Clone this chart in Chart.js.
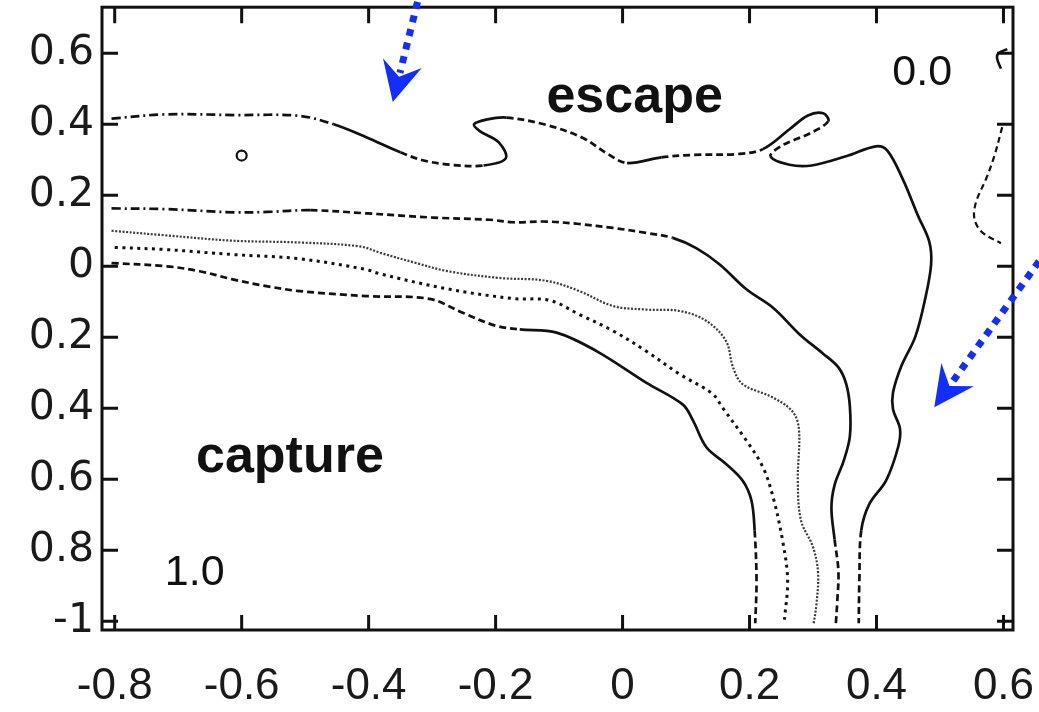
<!DOCTYPE html>
<html>
<head>
<meta charset="utf-8">
<script src="https://cdn.jsdelivr.net/npm/chart.js@4.4.1/dist/chart.umd.min.js"></script>
<style>
  html, body { margin: 0; padding: 0; background: #fff; overflow: hidden; }
  #wrap { width: 1039px; height: 712px; position: relative; }
</style>
</head>
<body>
<div id="wrap"><canvas id="c" width="1039" height="712"></canvas></div>
<script>
// Axis ticks
const xTicks = [-0.8, -0.6, -0.4, -0.2, 0, 0.2, 0.4, 0.6];
const xTickLabels = ['-0.8', '-0.6', '-0.4', '-0.2', '0', '0.2', '0.4', '0.6'];
const yTicks = [-1, -0.8, -0.6, -0.4, -0.2, 0, 0.2, 0.4, 0.6];
const yTickLabels = ['-1', '0.8', '0.6', '0.4', '0.2', '0', '0.2', '0.4', '0.6'];

// Contour lines, [x, y]
const contourOuter = [
  [-0.805, 0.416], [-0.72, 0.428], [-0.61, 0.426], [-0.51, 0.424], [-0.455, 0.400],
  [-0.403, 0.363], [-0.35, 0.321], [-0.313, 0.298], [-0.271, 0.286], [-0.219, 0.284],
  [-0.184, 0.304], [-0.195, 0.349], [-0.225, 0.381], [-0.234, 0.400], [-0.213, 0.414],
  [-0.183, 0.419], [-0.124, 0.400], [-0.064, 0.363], [-0.023, 0.316], [0.007, 0.291],
  [0.061, 0.307], [0.114, 0.314], [0.180, 0.316], [0.221, 0.330], [0.263, 0.386],
  [0.292, 0.425], [0.316, 0.431], [0.324, 0.409], [0.298, 0.377], [0.251, 0.340],
  [0.233, 0.310], [0.263, 0.286], [0.298, 0.284], [0.352, 0.310], [0.399, 0.338],
  [0.417, 0.326], [0.441, 0.247], [0.465, 0.144], [0.483, 0.070], [0.486, 0.005],
  [0.476, -0.097], [0.461, -0.199], [0.439, -0.282], [0.426, -0.356], [0.426, -0.403],
  [0.437, -0.458], [0.434, -0.510], [0.415, -0.604], [0.389, -0.669], [0.376, -0.744],
  [0.373, -0.884], [0.372, -1.006]
];
const contourSecond = [
  [-0.805, 0.163], [-0.718, 0.161], [-0.613, 0.152], [-0.56, 0.153], [-0.492, 0.158],
  [-0.403, 0.149], [-0.297, 0.137], [-0.209, 0.131], [-0.173, 0.124], [-0.12, 0.126],
  [-0.068, 0.119], [-0.015, 0.108], [0.037, 0.094], [0.079, 0.080], [0.116, 0.051],
  [0.153, 0.005], [0.195, -0.065], [0.237, -0.117], [0.279, -0.192], [0.315, -0.245],
  [0.340, -0.285], [0.352, -0.330], [0.358, -0.394], [0.358, -0.480], [0.348, -0.550],
  [0.334, -0.616], [0.329, -0.681], [0.334, -0.770], [0.340, -0.860], [0.338, -0.950],
  [0.336, -1.006]
];
const contourThird = [
  [-0.805, 0.100], [-0.719, 0.087], [-0.614, 0.072], [-0.509, 0.067], [-0.414, 0.056],
  [-0.380, 0.037], [-0.325, 0.009], [-0.275, -0.014], [-0.194, -0.033], [-0.120, -0.041],
  [-0.068, -0.070], [-0.015, -0.112], [0.037, -0.122], [0.090, -0.126], [0.132, -0.154],
  [0.163, -0.211], [0.174, -0.285], [0.189, -0.332], [0.237, -0.370], [0.268, -0.410],
  [0.278, -0.463], [0.276, -0.604], [0.281, -0.716], [0.300, -0.791], [0.308, -0.865],
  [0.305, -0.959], [0.301, -1.006]
];
const contourFourth = [
  [-0.800, 0.053], [-0.719, 0.047], [-0.614, 0.033], [-0.509, 0.021], [-0.404, -0.009],
  [-0.383, -0.021], [-0.278, -0.063], [-0.173, -0.091], [-0.115, -0.096], [-0.068, -0.136],
  [-0.015, -0.182], [0.037, -0.239], [0.090, -0.304], [0.142, -0.360], [0.158, -0.400],
  [0.195, -0.491], [0.221, -0.566], [0.237, -0.650], [0.252, -0.772], [0.260, -0.884],
  [0.255, -0.996]
];
const contourInner = [
  [-0.805, 0.009], [-0.719, 0.000], [-0.666, -0.014], [-0.614, -0.037], [-0.561, -0.056],
  [-0.509, -0.070], [-0.404, -0.084], [-0.304, -0.092], [-0.252, -0.131], [-0.199, -0.168],
  [-0.162, -0.178], [-0.104, -0.187], [-0.041, -0.239], [0.037, -0.328], [0.095, -0.390],
  [0.111, -0.435], [0.132, -0.510], [0.163, -0.557], [0.189, -0.604], [0.203, -0.660],
  [0.208, -0.744], [0.211, -0.884], [0.209, -1.006]
];
const contourEdge = [
  [0.598, 0.392], [0.586, 0.313], [0.573, 0.248], [0.557, 0.182], [0.554, 0.136],
  [0.565, 0.098], [0.596, 0.065]
];
const contourHook = [[0.606, 0.612], [0.592, 0.600], [0.590, 0.585], [0.596, 0.557]];
const islandPoint = [[-0.6, 0.312]];

// Annotations: arrows (start, tip) and labels, in data units
const arrowEscape = { from: [-0.323, 0.745], to: [-0.362, 0.463] };
const arrowSide = { from: [0.656, 0.014], to: [0.491, -0.397] };

const INK = '#111';
const DASH = { solid: [], dashDot: [9, 4, 2, 4], dash: [7, 4], fine: [2, 1.6], square: [3, 4.5] };

const pts = arr => arr.map(p => ({ x: p[0], y: p[1] }));
// dash pattern chosen by segment index ranges [from, to, dash]
const dashRuns = (runs, base) => ctx => {
  const i = ctx.p0DataIndex;
  for (const r of runs) if (i >= r[0] && i < r[1]) return r[2];
  return base;
};

function contour(data, opts) {
  return Object.assign({
    data: pts(data), showLine: true, borderColor: INK, borderWidth: 2.7,
    pointRadius: 0, pointHoverRadius: 0, tension: 0.35, fill: false
  }, opts);
}

const datasets = [
  contour(contourOuter, { segment: { borderDash: dashRuns([
    [0, 4, DASH.dashDot], [6, 9, DASH.dash], [15, 19, DASH.dash], [20, 23, DASH.dash],
    [27, 30, DASH.dash], [49, 51, DASH.dash]], DASH.solid) } }),
  contour(contourSecond, { segment: { borderDash: dashRuns([
    [0, 4, DASH.dashDot], [4, 13, DASH.dash], [27, 30, DASH.dash]], DASH.solid) } }),
  contour(contourThird, { borderDash: DASH.fine, borderWidth: 2.2, borderColor: '#3a3a3a' }),
  contour(contourFourth, { borderDash: DASH.square, borderWidth: 3 }),
  contour(contourInner, { segment: { borderDash: dashRuns([
    [0, 10, DASH.dash], [20, 22, DASH.dash]], DASH.solid) } }),
  contour(contourEdge, { borderDash: [6, 4], borderWidth: 2.2 }),
  contour(contourHook, { borderWidth: 2.6 }),
  {
    data: pts(islandPoint), showLine: false, pointRadius: 5, pointBorderWidth: 2.2,
    pointBorderColor: INK, pointBackgroundColor: 'rgba(0,0,0,0)', pointHoverRadius: 5
  }
];

const notes = [
  { text: 'escape', at: [0.019, 0.435], font: 'bold 52px "Liberation Sans", Arial, sans-serif' },
  { text: 'capture', at: [-0.524, -0.581], font: 'bold 52px "Liberation Sans", Arial, sans-serif' },
  { text: '0.0', at: [0.472, 0.511], font: '43px "Liberation Sans", Arial, sans-serif' },
  { text: '1.0', at: [-0.674, -0.898], font: '43px "Liberation Sans", Arial, sans-serif' }
];

const frame = {
  id: 'frame',
  afterDatasetsDraw(chart) {
    const { ctx, chartArea: a, scales: { x, y } } = chart;
    ctx.save();
    // inward tick marks on all four sides
    ctx.strokeStyle = INK;
    ctx.lineWidth = 3;
    ctx.beginPath();
    for (const v of xTicks) {
      const px = x.getPixelForValue(v);
      ctx.moveTo(px, a.bottom); ctx.lineTo(px, a.bottom - 15);
      ctx.moveTo(px, a.top); ctx.lineTo(px, a.top + 16);
    }
    for (const v of yTicks) {
      const py = y.getPixelForValue(v);
      ctx.moveTo(a.left, py); ctx.lineTo(a.left + 16, py);
      ctx.moveTo(a.right, py); ctx.lineTo(a.right - 16, py);
    }
    ctx.stroke();
    ctx.strokeRect(a.left, a.top, a.right - a.left, a.bottom - a.top);

    // labels inside the plot
    ctx.fillStyle = INK;
    ctx.textAlign = 'center';
    ctx.textBaseline = 'alphabetic';
    for (const n of notes) {
      ctx.font = n.font;
      ctx.fillText(n.text, x.getPixelForValue(n.at[0]), y.getPixelForValue(n.at[1]));
    }

    // blue dotted arrows
    const blue = 'rgb(18,46,255)';
    for (const ar of [arrowEscape, arrowSide]) {
      const sx = x.getPixelForValue(ar.from[0]), sy = y.getPixelForValue(ar.from[1]);
      const tx = x.getPixelForValue(ar.to[0]), ty = y.getPixelForValue(ar.to[1]);
      const len = Math.hypot(tx - sx, ty - sy);
      const ux = (tx - sx) / len, uy = (ty - sy) / len;
      const nx = -uy, ny = ux;
      const headLen = 40, halfW = 20, notch = 26;
      const bx = tx - ux * headLen, by = ty - uy * headLen;
      const kx = tx - ux * notch, ky = ty - uy * notch;
      ctx.strokeStyle = blue;
      ctx.lineWidth = 7;
      ctx.setLineDash([7, 7]);
      ctx.lineCap = 'butt';
      ctx.beginPath();
      ctx.moveTo(sx, sy);
      ctx.lineTo(kx - ux * 4, ky - uy * 4);
      ctx.stroke();
      ctx.setLineDash([]);
      ctx.fillStyle = blue;
      ctx.beginPath();
      ctx.moveTo(tx, ty);
      ctx.lineTo(bx + nx * halfW, by + ny * halfW);
      ctx.lineTo(kx, ky);
      ctx.lineTo(bx - nx * halfW, by - ny * halfW);
      ctx.closePath();
      ctx.fill();
    }
    ctx.restore();
  }
};

new Chart(document.getElementById('c'), {
  type: 'scatter',
  data: { datasets },
  options: {
    responsive: false,
    animation: false,
    devicePixelRatio: 1,
    layout: { padding: { top: 5, right: 26, left: 0, bottom: 0 } },
    plugins: { legend: { display: false }, tooltip: { enabled: false } },
    scales: {
      x: {
        type: 'linear', min: -0.82, max: 0.615,
        afterBuildTicks: s => { s.ticks = xTicks.map(v => ({ value: v })); },
        afterFit: s => { s.height = 82; s.paddingLeft = 0; s.paddingRight = 0; },
        grid: { display: false, drawTicks: false },
        border: { display: false },
        ticks: {
          autoSkip: false, maxRotation: 0, padding: 30, color: '#1a1a1a',
          font: { family: '"Liberation Sans", Arial, sans-serif', size: 44 },
          callback: v => xTickLabels[xTicks.indexOf(v)]
        }
      },
      y: {
        type: 'linear', min: -1.025, max: 0.73,
        afterBuildTicks: s => { s.ticks = yTicks.map(v => ({ value: v })); },
        afterFit: s => { s.width = 102; s.paddingTop = 0; s.paddingBottom = 0; },
        grid: { display: false, drawTicks: false },
        border: { display: false },
        ticks: {
          autoSkip: false, padding: 8, color: '#1a1a1a',
          font: { family: '"DejaVu Sans", sans-serif', size: 41 },
          callback: v => yTickLabels[yTicks.indexOf(v)]
        }
      }
    }
  },
  plugins: [frame]
});
</script>
</body>
</html>
